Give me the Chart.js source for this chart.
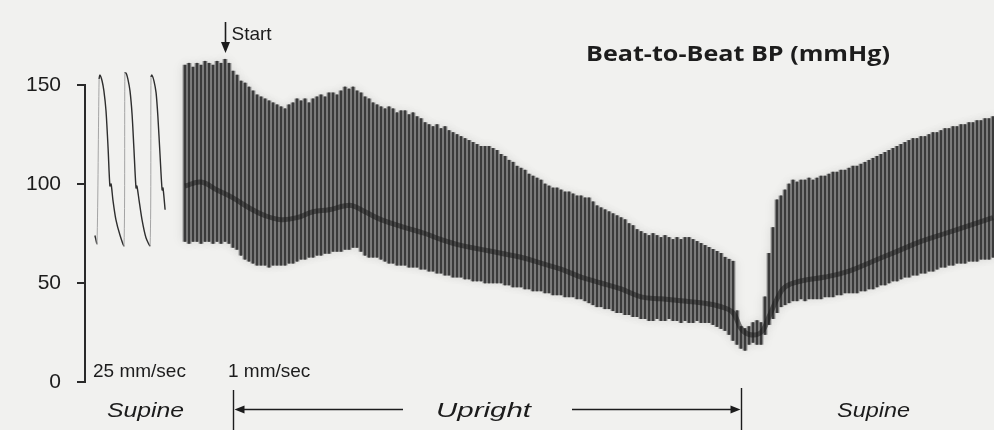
<!DOCTYPE html>
<html>
<head>
<meta charset="utf-8">
<title>Beat-to-Beat BP</title>
<script src="https://cdn.jsdelivr.net/npm/chart.js@4/dist/chart.umd.min.js"></script>
<style>
    html, body { margin: 0; padding: 0; background: #f1f1ef; }
    #wrap { width: 994px; height: 430px; position: relative; }
</style>
</head>
<body>
<div id="wrap"><canvas id="bpChart"></canvas></div>
<script>
// Supine pressure waveform recorded at 25 mm/sec (time in s, pressure in mmHg)
const waveTime = [-0.07, 0, 0.07, 0.1, 0.17, 0.23, 0.3, 0.37, 0.43, 0.47, 0.53, 0.63, 0.77, 0.9,
    0.93, 0.97, 1.03, 1.1, 1.17, 1.23, 1.3, 1.33, 1.4, 1.5, 1.63, 1.77,
    1.8, 1.83, 1.9, 1.97, 2.03, 2.1, 2.17, 2.2, 2.27];
const wavePressure = [74, 70, 153, 155, 152, 147, 137, 118, 99, 100, 92, 82, 74, 69,
    156, 156, 153, 147, 135, 118, 98, 99, 92, 82, 73, 69,
    154, 155, 152, 146, 134, 115, 97, 98, 87];

// Beat-to-beat trend at 1 mm/sec, one entry per beat
const systolic = [
    160, 161, 159, 161, 160, 162, 161, 160, 162, 161,
    163, 161, 157, 155, 152, 151, 149, 147, 145, 144,
    143, 142, 141, 140, 139, 138, 140, 141, 143, 142,
    143, 141, 143, 144, 145, 144, 146, 146, 145, 147,
    149, 148, 149, 147, 146, 144, 143, 141, 140, 139,
    138, 139, 138, 136, 137, 137, 135, 136, 134, 133,
    131, 130, 129, 130, 128, 129, 127, 126, 125, 124,
    123, 122, 121, 120, 119, 119, 119, 118, 117, 115,
    114, 112, 111, 109, 108, 107, 105, 104, 103, 102,
    100, 99, 98, 98, 97, 96, 96, 95, 94, 94,
    93, 93, 91, 89, 88, 87, 86, 85, 84, 83,
    82, 80, 79, 77, 76, 75, 74, 75, 74, 73,
    74, 73, 72, 73, 72, 73, 73, 72, 71, 70,
    69, 68, 67, 66, 65, 63, 62, 61, 36, 28,
    27, 28, 30, 31, 30, 43, 65, 78, 92, 94,
    97, 100, 102, 101, 102, 102, 103, 102, 103, 104,
    104, 105, 106, 106, 107, 107, 108, 109, 109, 110,
    111, 112, 113, 114, 115, 116, 117, 118, 119, 120,
    121, 122, 123, 123, 124, 124, 125, 126, 126, 127,
    128, 128, 129, 129, 130, 130, 131, 131, 132, 132,
    133, 133, 134
];
const diastolic = [
    71, 70, 71, 71, 70, 71, 71, 70, 71, 70,
    71, 70, 68, 67, 64, 62, 61, 60, 59, 59,
    59, 58, 59, 59, 59, 59, 60, 60, 61, 62,
    62, 63, 63, 64, 64, 65, 65, 66, 66, 66,
    67, 67, 68, 68, 66, 64, 63, 63, 63, 62,
    61, 60, 60, 59, 59, 59, 58, 58, 58, 57,
    57, 56, 56, 55, 55, 54, 54, 53, 53, 53,
    52, 52, 51, 51, 51, 50, 50, 50, 50, 50,
    49, 49, 48, 48, 48, 47, 47, 46, 46, 46,
    45, 45, 44, 44, 44, 43, 43, 43, 42, 42,
    41, 40, 39, 38, 38, 37, 37, 36, 35, 35,
    34, 34, 33, 33, 32, 32, 31, 31, 32, 31,
    31, 32, 31, 31, 30, 31, 30, 30, 31, 30,
    30, 30, 29, 28, 27, 26, 24, 21, 19, 17,
    16, 19, 20, 19, 19, 24, 29, 32, 35, 38,
    39, 40, 41, 41, 42, 41, 42, 42, 42, 42,
    43, 43, 43, 44, 44, 45, 45, 45, 45, 46,
    46, 47, 47, 48, 49, 49, 50, 51, 51, 52,
    53, 53, 54, 54, 55, 55, 56, 56, 57, 58,
    58, 59, 59, 60, 60, 60, 61, 61, 61, 62,
    62, 62, 63
];

// Dark mean-pressure band (beat number, mmHg)
const meanBeat = [0, 4, 8, 12, 16, 20, 24, 28, 32, 36, 40, 42, 45, 49, 55, 60, 64, 69, 74, 79,
    84, 89, 94, 99, 104, 109, 114, 119, 124, 129, 134, 137, 139, 141, 144, 146, 148, 150,
    154, 160, 166, 172, 178, 184, 190, 196, 202];
const meanPressure = [99, 101, 97, 93, 88, 84, 82, 83, 86, 87, 89, 89, 86, 82, 78, 75, 72, 69, 67, 65,
    63, 60, 57, 53, 50, 47, 43, 42, 41, 40, 38, 35, 27, 24, 25, 33, 42, 48,
    51, 53, 56, 61, 66, 71, 75, 79, 83];

const yTicks = [0, 50, 100, 150];
const speedLabels = ["25 mm/sec", "1 mm/sec"];
const phaseLabels = ["Supine", "Upright", "Supine"];
const startBeat = 10;        // "Start" arrow
const uprightBeats = [12, 139];
const chartTitle = "Beat-to-Beat BP (mmHg)";

const beats = systolic.map((v, i) => i);
const beatData = beats.map((b, i) => ({ x: b, y: [diastolic[i], systolic[i]] }));

// draw text squeezed/stretched to a given width
function fitText(ctx, text, x, y, width) {
    const w = ctx.measureText(text).width;
    ctx.save();
    ctx.translate(x, y);
    ctx.scale(width / w, 1);
    ctx.fillText(text, 0, 0);
    ctx.restore();
}

function arrowHead(ctx, x, y, dir, len, half) {
    // dir: 'left', 'right', 'down'
    ctx.beginPath();
    if (dir === "left") {
        ctx.moveTo(x, y); ctx.lineTo(x + len, y - half); ctx.lineTo(x + len, y + half);
    } else if (dir === "right") {
        ctx.moveTo(x, y); ctx.lineTo(x - len, y - half); ctx.lineTo(x - len, y + half);
    } else {
        ctx.moveTo(x, y); ctx.lineTo(x - half, y - len); ctx.lineTo(x + half, y - len);
    }
    ctx.closePath();
    ctx.fill();
}

const paperPlugin = {
    id: "paper",
    beforeDraw(chart) {
        const ctx = chart.ctx;
        ctx.save();
        ctx.fillStyle = "#f1f1ef";
        ctx.fillRect(0, 0, chart.width, chart.height);
        ctx.restore();
    },
    beforeDatasetDraw(chart, args) {
        if (args.meta.label === "beat fill") {
            chart.ctx.save();
            chart.ctx.shadowColor = "rgba(0,0,0,0.1)";
            chart.ctx.shadowBlur = 12;
        }
    },
    afterDatasetDraw(chart, args) {
        if (args.meta.label === "beat fill") {
            chart.ctx.restore();
        }
    },
    afterDraw(chart) {
        const ctx = chart.ctx;
        const xt = chart.scales.xt;
        const sans = '"Liberation Sans", Arial, Helvetica, sans-serif';
        ctx.save();
        ctx.fillStyle = "#1c1c1c";
        ctx.strokeStyle = "#1c1c1c";

        // title
        ctx.font = 'bold 22px "Open Sans", Lato, sans-serif';
        ctx.textBaseline = "alphabetic";
        fitText(ctx, chartTitle, 586, 61, 304);

        // start arrow
        const sx = Math.round(xt.getPixelForValue(startBeat)) + 0.5;
        ctx.lineWidth = 1.6;
        ctx.beginPath();
        ctx.moveTo(sx, 22);
        ctx.lineTo(sx, 45);
        ctx.stroke();
        arrowHead(ctx, sx, 53, "down", 11, 4.5);
        ctx.font = "19px " + sans;
        ctx.fillText("Start", sx + 6, 40);

        // paper speed labels
        ctx.fillText(speedLabels[0], 93, 377);
        ctx.fillText(speedLabels[1], 228, 377);

        // phase labels
        ctx.font = "italic 21px " + sans;
        fitText(ctx, phaseLabels[0], 107, 417, 77);
        fitText(ctx, phaseLabels[1], 436, 417, 95);
        fitText(ctx, phaseLabels[2], 837, 417, 73);

        // upright bracket
        const ux0 = Math.round(xt.getPixelForValue(uprightBeats[0])) + 0.5;
        const ux1 = Math.round(xt.getPixelForValue(uprightBeats[1])) + 0.5;
        const ay = 409.5;
        ctx.lineWidth = 1.4;
        ctx.beginPath();
        ctx.moveTo(ux0, 390); ctx.lineTo(ux0, 430);
        ctx.moveTo(ux1, 388); ctx.lineTo(ux1, 430);
        ctx.moveTo(ux0 + 8, ay); ctx.lineTo(403, ay);
        ctx.moveTo(572, ay); ctx.lineTo(ux1 - 8, ay);
        ctx.stroke();
        arrowHead(ctx, ux0 + 1, ay, "left", 10, 4);
        arrowHead(ctx, ux1 - 1, ay, "right", 10, 4);
        ctx.restore();
    }
};

function drawChart() {
    const canvas = document.getElementById("bpChart");
    new Chart(canvas, {
        type: "bar",
        data: {
            datasets: [
                {
                    type: "line",
                    label: "25 mm/sec",
                    xAxisID: "xw",
                    data: waveTime.map((t, i) => ({ x: t, y: wavePressure[i] })),
                    borderColor: "#2e2e2e",
                    borderWidth: 1.4,
                    pointRadius: 0,
                    tension: 0.25,
                    clip: false,
                    order: 0,
                    segment: {
                        borderColor: c => (c.p1.parsed.y - c.p0.parsed.y > 40 ? "#a4a4a4" : undefined),
                        borderWidth: c => (c.p1.parsed.y - c.p0.parsed.y > 40 ? 1 : undefined)
                    }
                },
                {
                    type: "line",
                    label: "mean",
                    xAxisID: "xt",
                    data: meanBeat.map((b, i) => ({ x: b, y: meanPressure[i] })),
                    borderColor: "rgba(28,28,28,0.55)",
                    borderWidth: 5,
                    pointRadius: 0,
                    tension: 0.4,
                    clip: false,
                    order: 1
                },
                {
                    label: "beat line",
                    xAxisID: "xt",
                    data: beatData,
                    backgroundColor: "#3a3a3a",
                    barThickness: 1.4,
                    grouped: false,
                    clip: false,
                    order: 2
                },
                {
                    label: "beat fill",
                    xAxisID: "xt",
                    data: beatData,
                    backgroundColor: "#7f7f7f",
                    barPercentage: 1,
                    categoryPercentage: 1,
                    grouped: false,
                    clip: false,
                    order: 3
                }
            ]
        },
        options: {
            responsive: true,
            maintainAspectRatio: false,
            animation: false,
            layout: { padding: { top: 85, bottom: 48, left: 0, right: 0 } },
            plugins: {
                legend: { display: false },
                tooltip: { enabled: false }
            },
            scales: {
                xw: { type: "linear", display: false, offset: false, min: -0.4, max: 29.9 },
                xt: { type: "linear", display: false, offset: false, min: -25, max: 202.25 },
                y: {
                    min: 0,
                    max: 150,
                    afterFit: s => { s.width = 85; },
                    afterBuildTicks: s => { s.ticks = yTicks.map(v => ({ value: v })); },
                    ticks: {
                        color: "#1c1c1c",
                        padding: 16,
                        font: { family: '"Liberation Sans", Arial, sans-serif', size: 21 }
                    },
                    grid: { drawOnChartArea: false, tickLength: 8, color: "#2a2a2a", lineWidth: 2 },
                    border: { color: "#2a2a2a", width: 2 }
                }
            }
        },
        plugins: [paperPlugin]
    });
}

document.addEventListener("DOMContentLoaded", drawChart);
</script>
</body>
</html>
